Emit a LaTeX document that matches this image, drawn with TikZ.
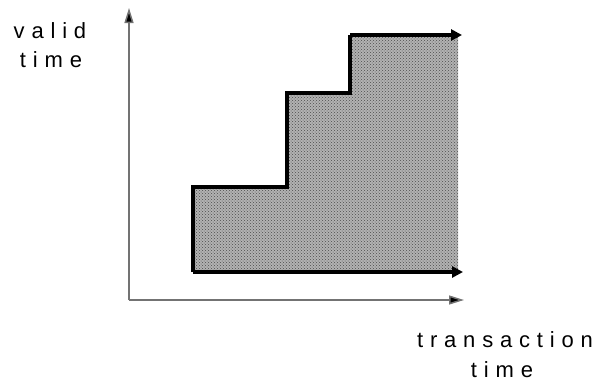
\documentclass[tikz,border=0pt]{standalone}
\usepackage{fontspec}
\setmainfont[LetterSpace=31]{Liberation Sans}
\usetikzlibrary{arrows.meta,patterns}
\begin{document}
\begin{tikzpicture}[x=1pt,y=-1pt,
  axis/.style={draw=black!55,line width=1.5pt,-{Triangle[length=15pt,width=9pt,fill=black]}},
  edge/.style={draw=black,line width=3.2pt},
  edgearrow/.style={draw=black,line width=3.2pt,-{Triangle[length=11pt,width=11pt]}},
  lbl/.style={font=\fontsize{22}{30}\selectfont,inner sep=0pt,anchor=base}]
\useasboundingbox (0,0) rectangle (597,381);
\coordinate (o) at (129,300);
\coordinate (ytip) at (129,8);
\coordinate (xtip) at (464,300);
\coordinate (p0) at (193,272);
\coordinate (p1) at (193,187);
\coordinate (p2) at (287,187);
\coordinate (p3) at (287,93);
\coordinate (p4) at (350,93);
\coordinate (p5) at (350,35);
\coordinate (q5) at (458,35);
\coordinate (q0) at (458,272);
\coordinate (t5) at (462,35);
\coordinate (t0) at (463,272);
\fill[black!30] (p0) -- (p1) -- (p2) -- (p3) -- (p4) -- (p5) -- (q5) -- (q0) -- cycle;
\fill[pattern=crosshatch dots,pattern color=black!70] (p0) -- (p1) -- (p2) -- (p3) -- (p4) -- (p5) -- (q5) -- (q0) -- cycle;
\draw[axis] (o) -- (ytip);
\draw[axis] (o) -- (xtip);
\draw[edge,line join=miter] (p0) -- (p1) -- (p2) -- (p3) -- (p4) -- (p5);
\draw[edgearrow] (p5) -- (t5);
\draw[edgearrow] (p0) -- (t0);
\node[lbl] (v1) at (50,38) {valid};
\node[lbl] (v2) at (51,67) {time};
\node[lbl] (t1) at (505,347) {transaction};
\node[lbl] (t2) at (502,377) {time};
\end{tikzpicture}
\end{document}
